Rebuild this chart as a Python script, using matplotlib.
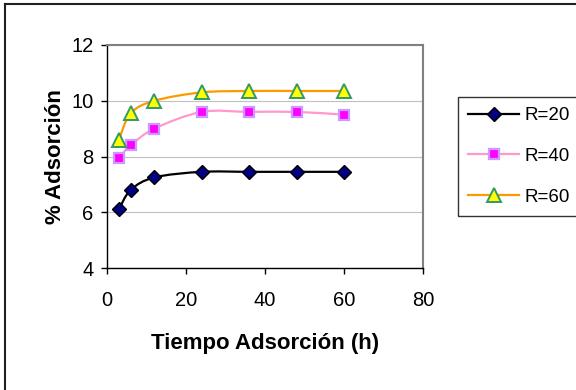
import numpy as np
import matplotlib
matplotlib.use('Agg')
import matplotlib.pyplot as plt
from matplotlib.path import Path
from matplotlib.patches import PathPatch
from matplotlib.lines import Line2D

plt.rcParams['font.family'] = ['Liberation Sans', 'DejaVu Sans']

tiempo = [3, 6, 12, 24, 36, 48, 60]
r20 = [6.1, 6.8, 7.25, 7.45, 7.45, 7.45, 7.45]
r40 = [7.95, 8.4, 9.0, 9.6, 9.6, 9.6, 9.5]
r60 = [8.6, 9.55, 10.0, 10.3, 10.35, 10.35, 10.35]
labels = ['R=20', 'R=40', 'R=60']
x_ticks = [0, 20, 40, 60, 80]
y_ticks = [4, 6, 8, 10, 12]


def smooth_path(xs, ys):
    # Excel-style smoothed line: cubic bezier through the points
    pts = np.column_stack([xs, ys]).astype(float)
    n = len(pts)
    verts = [pts[0]]
    codes = [Path.MOVETO]
    for i in range(n - 1):
        p0 = pts[i - 1] if i > 0 else pts[i]
        p1 = pts[i]
        p2 = pts[i + 1]
        p3 = pts[i + 2] if i + 2 < n else pts[i + 1]
        verts += [p1 + (p2 - p0) / 6, p2 - (p3 - p1) / 6, p2]
        codes += [Path.CURVE4] * 3
    return Path(verts, codes)


styles = [
    dict(color='black', marker='D', mfc='#000080', mec='black', ms=7.5, mew=1.0),
    dict(color='#FF99CC', marker='s', mfc='#FF00FF', mec='#CC99FF', ms=7.5, mew=1.6),
    dict(color='#FF9900', marker='^', mfc='#FFFF00', mec='#339966', ms=9.5, mew=1.4),
]

fig = plt.figure(figsize=(5.76, 3.9), dpi=100)
ax = fig.add_axes([107 / 576, 1 - 268 / 390, 316 / 576, 223 / 390])

handles = []
for ys, st, lab in zip([r20, r40, r60], styles, labels):
    ax.add_patch(PathPatch(smooth_path(tiempo, ys), fill=False,
                           edgecolor=st['color'], lw=1.6, zorder=3))
    ax.plot(tiempo, ys, ls='none', marker=st['marker'], mfc=st['mfc'],
            mec=st['mec'], ms=st['ms'], mew=st['mew'], zorder=4)
    handles.append(Line2D([], [], lw=1.6, **st))

ax.set_xlim(0, 80)
ax.set_ylim(4, 12)
ax.set_xticks(x_ticks)
ax.set_yticks(y_ticks)
ax.yaxis.grid(True, color='#C0C0C0', lw=0.8)
ax.set_axisbelow(True)
for s in ['top', 'right']:
    ax.spines[s].set_color('#808080')
    ax.spines[s].set_linewidth(1.5)
for s in ['left', 'bottom']:
    ax.spines[s].set_color('black')
    ax.spines[s].set_linewidth(1.0)
ax.tick_params(axis='both', labelsize=14.5, length=4.3, width=1, direction='out')
ax.tick_params(axis='x', pad=12.5)
ax.tick_params(axis='y', pad=5.5)

ax.set_xlabel('Tiempo Adsorción (h)', fontsize=16, fontweight='bold')
ax.set_ylabel('% Adsorción', fontsize=16, fontweight='bold')
ax.xaxis.set_label_coords(0.5, -0.29)
ax.yaxis.set_label_coords(-0.13, 0.5)

leg = fig.legend(handles, labels, loc='upper left',
                 bbox_to_anchor=(458 / 576, 1 - 97 / 390), fontsize=13.5,
                 frameon=True, fancybox=False, borderpad=0.55,
                 handlelength=2.7, handletextpad=0.3, labelspacing=1.25,
                 borderaxespad=0)
leg.get_frame().set_edgecolor('black')
leg.get_frame().set_linewidth(1.0)

# chart area border (right and bottom fall outside the picture)
fig.add_artist(Line2D([5 / 576, 5 / 576], [0, 1 - 4 / 390], color='#202020', lw=1.5))
fig.add_artist(Line2D([5 / 576, 1], [1 - 4 / 390, 1 - 4 / 390], color='#202020', lw=1.5))

fig.savefig('out.png', dpi=100)
